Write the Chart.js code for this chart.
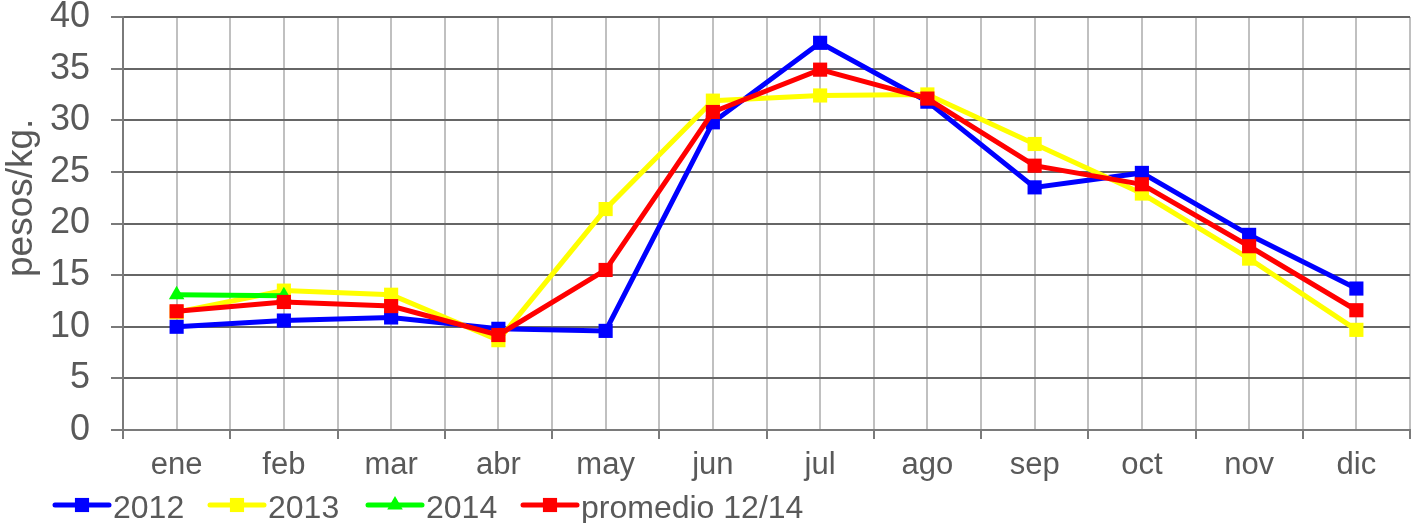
<!DOCTYPE html>
<html>
<head>
<meta charset="utf-8">
<script src="https://cdn.jsdelivr.net/npm/chart.js@4.4.1/dist/chart.umd.min.js"></script>
<style>
  html, body { margin: 0; padding: 0; background: #fff; }
  #wrap { width: 1421px; height: 523px; }
</style>
</head>
<body>
<div id="wrap"><canvas id="priceChart" width="1421" height="523"></canvas></div>
<script>
// Monthly prices (pesos/kg.)
const months = ['ene', 'feb', 'mar', 'abr', 'may', 'jun', 'jul', 'ago', 'sep', 'oct', 'nov', 'dic'];
const yTicks = [0, 5, 10, 15, 20, 25, 30, 35, 40];

const serie2012 = [10.0, 10.6, 10.9, 9.8, 9.6, 29.8, 37.5, 31.8, 23.5, 24.9, 18.9, 13.7];
const serie2013 = [11.4, 13.5, 13.1, 8.7, 21.4, 31.9, 32.4, 32.5, 27.7, 22.9, 16.6, 9.7];
const serie2014 = [13.1, 13.0, null, null, null, null, null, null, null, null, null, null];
const promedio = [11.5, 12.4, 12.0, 9.2, 15.5, 30.8, 34.9, 32.1, 25.6, 23.8, 17.8, 11.6];

const fontFamily = "'Liberation Sans', Arial, sans-serif";
const textColor = '#595959';

function series(label, data, color, style, order) {
    return {
        label: label,
        data: data,
        borderColor: color,
        backgroundColor: color,
        borderWidth: 5,
        pointStyle: style,
        pointRadius: style === 'triangle' ? 9 : 10,
        pointHoverRadius: 10,
        pointBorderWidth: 0,
        tension: 0,
        order: order
    };
}

// legend with line + marker, like the spreadsheet one
const lineLegend = {
    id: 'lineLegend',
    afterDraw(chart) {
        const ctx = chart.ctx;
        const starts = [55, 210, 368, 523];
        const y = 505;
        ctx.save();
        chart.data.datasets.forEach((ds, i) => {
            const x0 = starts[i];
            ctx.strokeStyle = ds.borderColor;
            ctx.lineWidth = 5;
            ctx.lineCap = 'round';
            ctx.beginPath();
            ctx.moveTo(x0, y);
            ctx.lineTo(x0 + 54, y);
            ctx.stroke();
            ctx.fillStyle = ds.backgroundColor;
            Chart.helpers.drawPoint(ctx, {
                pointStyle: ds.pointStyle,
                radius: ds.pointRadius,
                borderWidth: 0
            }, x0 + 27, y);
            ctx.fillStyle = textColor;
            ctx.font = '32px ' + fontFamily;
            ctx.textBaseline = 'alphabetic';
            ctx.textAlign = 'left';
            ctx.fillText(ds.label, x0 + 58, 518);
        });
        ctx.restore();
    }
};

new Chart(document.getElementById('priceChart'), {
    type: 'line',
    data: {
        labels: months,
        datasets: [
            series('2012', serie2012, '#0000ff', 'rect', 3),
            series('2013', serie2013, '#ffff00', 'rect', 2),
            series('2014', serie2014, '#00ff00', 'triangle', 1),
            series('promedio 12/14', promedio, '#ff0000', 'rect', 0)
        ]
    },
    options: {
        responsive: false,
        animation: false,
        layout: { padding: { top: 17, right: 11, bottom: 0, left: 0 } },
        plugins: {
            legend: { display: false },
            title: { display: false },
            tooltip: { enabled: false }
        },
        scales: {
            x: {
                type: 'category',
                offset: true,
                grid: {
                    offset: true,
                    color: '#c0c0c0',
                    lineWidth: 2,
                    tickColor: '#7a7a7a',
                    tickLength: 9
                },
                border: { color: '#7a7a7a', width: 2 },
                ticks: {
                    color: textColor,
                    font: { family: fontFamily, size: 31 },
                    padding: 8,
                    maxRotation: 0
                },
                afterFit(scale) {
                    scale.height = 93;
                    scale.paddingLeft = 0;
                    scale.paddingRight = 0;
                }
            },
            xc: {
                type: 'category',
                position: 'top',
                offset: true,
                grid: {
                    offset: false,
                    color: '#c0c0c0',
                    lineWidth: 2,
                    drawTicks: false
                },
                border: { display: false },
                ticks: { display: false },
                afterFit(scale) {
                    scale.height = 0;
                    scale.paddingLeft = 0;
                    scale.paddingRight = 0;
                }
            },
            y: {
                min: 0,
                max: 40,
                afterBuildTicks(scale) {
                    scale.ticks = yTicks.map(v => ({ value: v }));
                },
                grid: {
                    color: '#666666',
                    lineWidth: 2,
                    tickColor: '#7a7a7a',
                    tickLength: 12
                },
                border: { color: '#7a7a7a', width: 2 },
                ticks: {
                    color: textColor,
                    font: { family: fontFamily, size: 36, lineHeight: 1 },
                    padding: 21
                },
                title: {
                    display: true,
                    text: '\u00a0\u00a0\u00a0\u00a0\u00a0pesos/kg.',
                    color: textColor,
                    font: { family: fontFamily, size: 37 },
                    padding: { top: 0, bottom: 6 }
                },
                afterFit(scale) {
                    scale.width = 123;
                    scale.paddingTop = 0;
                    scale.paddingBottom = 0;
                }
            }
        }
    },
    plugins: [lineLegend]
});
</script>
</body>
</html>
